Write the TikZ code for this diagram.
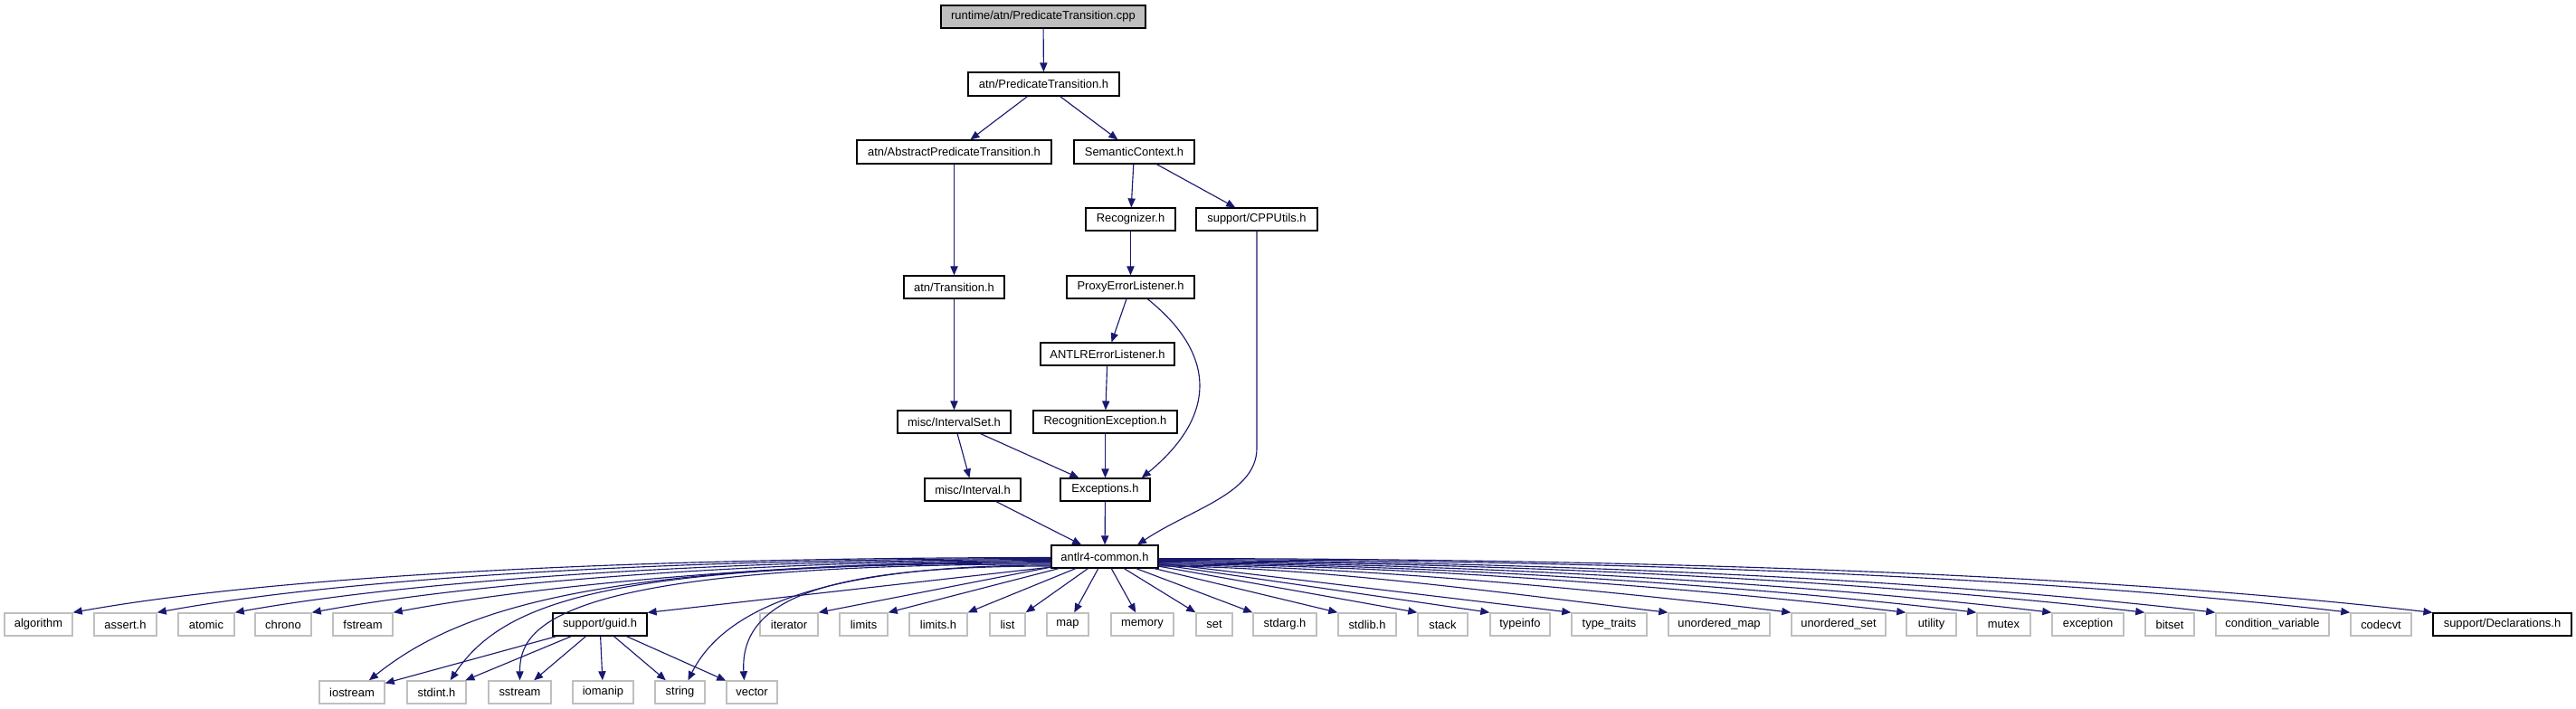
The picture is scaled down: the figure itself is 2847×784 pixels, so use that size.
\documentclass[tikz,border=0pt]{standalone}
\usepackage{fontspec}
\setmainfont{Liberation Sans}
\usetikzlibrary{arrows.meta}
\definecolor{edgeblue}{HTML}{191970}
\definecolor{extgray}{HTML}{BFBFBF}
\definecolor{rootgray}{HTML}{BFBFBF}
\newcommand\gnode[7]{\node[#1, minimum width={(#5-#3)*0.75pt}, minimum height={(#6-#4)*0.75pt}] (#2) at ({(#3+#5)/2},{(#4+#6)/2}) {#7};}
\begin{document}
\begin{tikzpicture}[x=0.75pt,y=-0.75pt,
  font=\fontsize{9.7}{11.6}\selectfont,
  proj/.style={draw=black, line width=0.9pt, fill=white, inner sep=0pt},
  rootbox/.style={proj, fill=rootgray},
  ext/.style={draw=extgray, line width=1.1pt, fill=white, inner sep=0pt},
  edge/.style={draw=edgeblue, line width=0.85pt, -{Triangle[length=7.5pt,width=6.2pt]}}]
\useasboundingbox (0,0) rectangle (2847,784);
% project nodes
\gnode{rootbox}{cpp}{1040}{6}{1266}{31}{runtime/atn/PredicateTransition.cpp}
\gnode{proj}{pth}{1070}{80}{1237}{106}{atn/PredicateTransition.h}
\gnode{proj}{apt}{947}{155}{1162}{181}{atn/AbstractPredicateTransition.h}
\gnode{proj}{sc}{1187}{155}{1320}{181}{SemanticContext.h}
\gnode{proj}{rec}{1200}{230}{1299}{255}{Recognizer.h}
\gnode{proj}{cppu}{1322}{230}{1456}{255}{support/CPPUtils.h}
\gnode{proj}{tr}{999}{305}{1110}{330}{atn/Transition.h}
\gnode{proj}{pel}{1179}{305}{1320}{330}{ProxyErrorListener.h}
\gnode{proj}{ael}{1150}{379}{1298}{404}{ANTLRErrorListener.h}
\gnode{proj}{iset}{992}{454}{1117}{479}{misc/IntervalSet.h}
\gnode{proj}{rex}{1142}{454}{1301}{479}{RecognitionException.h}
\gnode{proj}{ival}{1022}{529}{1128}{554}{misc/Interval.h}
\gnode{proj}{exc}{1172}{529}{1271}{554}{Exceptions.h}
\gnode{proj}{ac}{1162}{603}{1280}{628}{antlr4-common.h}
% bottom row
\gnode{ext}{algorithm}{5}{678}{80}{703}{algorithm}
\gnode{ext}{assert}{104}{678}{173}{703}{assert.h}
\gnode{ext}{atomic}{197}{678}{259}{703}{atomic}
\gnode{ext}{chrono}{282}{678}{344}{703}{chrono}
\gnode{ext}{fstream}{368}{678}{434}{703}{fstream}
\gnode{proj}{guid}{611}{678}{715}{703}{support/guid.h}
\gnode{ext}{iterator}{840}{678}{904}{703}{iterator}
\gnode{ext}{limits}{928}{678}{981}{703}{limits}
\gnode{ext}{limitsh}{1005}{678}{1069}{703}{limits.h}
\gnode{ext}{list}{1094}{678}{1133}{703}{list}
\gnode{ext}{map}{1157}{678}{1203}{703}{map}
\gnode{ext}{memory}{1228}{678}{1297}{703}{memory}
\gnode{ext}{set}{1322}{678}{1362}{703}{set}
\gnode{ext}{stdarg}{1385}{678}{1455}{703}{stdarg.h}
\gnode{ext}{stdlib}{1479}{678}{1543}{703}{stdlib.h}
\gnode{ext}{stack}{1567}{678}{1622}{703}{stack}
\gnode{ext}{typeinfo}{1647}{678}{1713}{703}{typeinfo}
\gnode{ext}{typetraits}{1737}{678}{1820}{703}{type\_traits}
\gnode{ext}{umap}{1844}{678}{1956}{703}{unordered\_map}
\gnode{ext}{uset}{1980}{678}{2084}{703}{unordered\_set}
\gnode{ext}{utility}{2107}{678}{2162}{703}{utility}
\gnode{ext}{mutex}{2185}{678}{2244}{703}{mutex}
\gnode{ext}{exception}{2268}{678}{2347}{703}{exception}
\gnode{ext}{bitset}{2371}{678}{2425}{703}{bitset}
\gnode{ext}{condvar}{2449}{678}{2574}{703}{condition\_variable}
\gnode{ext}{codecvt}{2598}{678}{2665}{703}{codecvt}
\gnode{proj}{decl}{2689}{678}{2842}{703}{support/Declarations.h}
% second row
\gnode{ext}{iostream}{353}{753}{425}{778}{iostream}
\gnode{ext}{stdint}{450}{753}{515}{778}{stdint.h}
\gnode{ext}{sstream}{540}{753}{609}{778}{sstream}
\gnode{ext}{iomanip}{633}{753}{700}{778}{iomanip}
\gnode{ext}{string}{724}{753}{779}{778}{string}
\gnode{ext}{vector}{803}{753}{859}{778}{vector}
% upper edges
\draw[edge] (cpp) -- (pth);
\draw[edge] (pth) -- (apt);
\draw[edge] (pth) -- (sc);
\draw[edge] (apt) -- (tr);
\draw[edge] (tr) -- (iset);
\draw[edge] (sc) -- (rec);
\draw[edge] (sc) -- (cppu);
\draw[edge] (rec) -- (pel);
\draw[edge] (pel) -- (ael);
\draw[edge] (pel.-35) .. controls +(75,60) and +(85,-70) .. (exc.18);
\draw[edge] (ael) -- (rex);
\draw[edge] (rex) -- (exc);
\draw[edge] (iset) -- (ival);
\draw[edge] (iset) -- (exc);
\draw[edge] (ival) -- (ac);
\draw[edge] (exc) -- (ac);
\draw[edge] (cppu.south) -- ++(0,240) .. controls +(0,50) and +(60,-40) .. (ac.20);
% antlr4-common to the left
\draw[edge] (ac.181) .. controls +(-430,0) and +(240,-43) .. (algorithm.north east);
\draw[edge] (ac.182) .. controls +(-395,0) and +(218,-40) .. (assert.north east);
\draw[edge] (ac.183) .. controls +(-360,0) and +(200,-36) .. (atomic.north east);
\draw[edge] (ac.184) .. controls +(-325,0) and +(180,-33) .. (chrono.north east);
\draw[edge] (ac.185) .. controls +(-290,0) and +(160,-30) .. (fstream.north east);
\draw[edge] (ac.186) .. controls +(-500,0) and +(100,-80) .. (iostream.35);
\draw[edge] (ac.187) .. controls +(-480,0) and +(60,-90) .. (stdint.41);
\draw[edge] (ac.188) .. controls +(-550,0) and +(0,-60) .. (sstream.north);
\draw[edge] (ac.189) .. controls +(-250,0) and +(40,-80) .. (string.56);
\draw[edge] (ac.190) .. controls +(-250,0) and +(-5,-90) .. (vector.123);
\draw[edge] (ac.191) -- (guid.north east);
\draw[edge] (ac) -- (iterator.north east);
\draw[edge] (ac) -- (limits.north east);
\draw[edge] (ac) -- (limitsh.north east);
\draw[edge] (ac) -- (list.north east);
\draw[edge] (ac) -- (map);
\draw[edge] (ac) -- (memory);
% antlr4-common to the right
\draw[edge] (ac) -- (set.north west);
\draw[edge] (ac) -- (stdarg.north west);
\draw[edge] (ac) -- (stdlib.north west);
\draw[edge] (ac) -- (stack.north west);
\draw[edge] (ac) -- (typeinfo.north west);
\draw[edge] (ac) -- (typetraits.north west);
\draw[edge] (ac.-10) .. controls +(170,0) and +(-170,-20) .. (umap.north west);
\draw[edge] (ac.-9) .. controls +(210,0) and +(-210,-25) .. (uset.north west);
\draw[edge] (ac.-8) .. controls +(250,0) and +(-250,-29) .. (utility.north west);
\draw[edge] (ac.-7) .. controls +(270,0) and +(-270,-32) .. (mutex.north west);
\draw[edge] (ac.-6) .. controls +(296,0) and +(-296,-35) .. (exception.north west);
\draw[edge] (ac.-5) .. controls +(327,0) and +(-327,-38) .. (bitset.north west);
\draw[edge] (ac.-4) .. controls +(351,0) and +(-351,-41) .. (condvar.north west);
\draw[edge] (ac.-3) .. controls +(395,0) and +(-395,-46) .. (codecvt.north west);
\draw[edge] (ac.-2) .. controls +(423,0) and +(-423,-49) .. (decl.north west);
% guid
\draw[edge] (guid) -- (iostream);
\draw[edge] (guid) -- (stdint);
\draw[edge] (guid) -- (sstream);
\draw[edge] (guid) -- (iomanip);
\draw[edge] (guid) -- (string);
\draw[edge] (guid) -- (vector);
\end{tikzpicture}
\end{document}
